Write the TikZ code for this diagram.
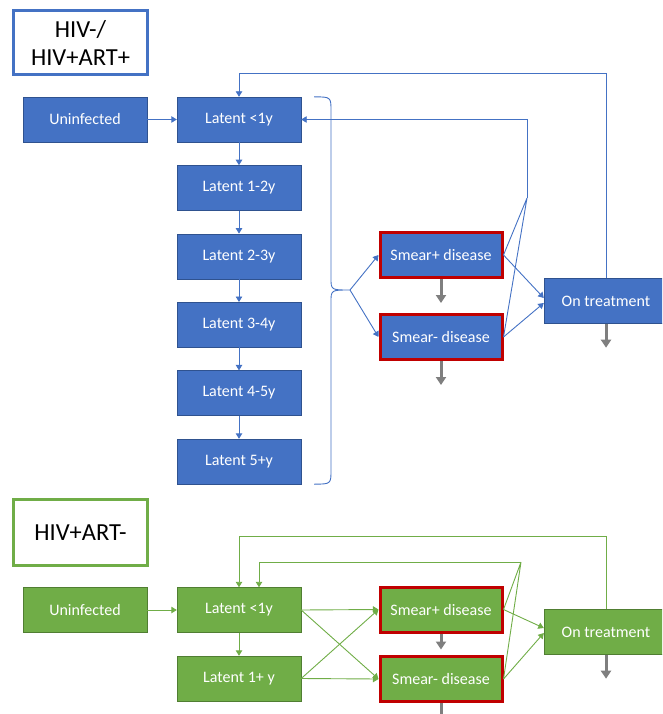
\documentclass[tikz,border=0pt]{standalone}
\usepackage{fontspec}
\setmainfont{Carlito}
\usetikzlibrary{arrows.meta}
\definecolor{oblue}{HTML}{4472C4}
\definecolor{oblueline}{HTML}{2F528F}
\definecolor{ogreen}{HTML}{70AD47}
\definecolor{ogreenline}{HTML}{507E32}
\definecolor{ored}{HTML}{C00000}
\definecolor{ogray}{HTML}{7F7F7F}
\begin{document}
\begin{tikzpicture}[x=1pt,y=-1pt,
  stage/.style={draw=#1line,fill=#1,text=white,minimum width=124pt,minimum height=45pt,inner sep=0pt,font=\fontsize{16}{19}\selectfont},
  sick/.style={draw=ored,line width=3pt,minimum width=122pt,minimum height=45pt},
  title/.style={draw=#1,line width=3pt,fill=white,minimum width=134pt,minimum height=64pt,align=center,font=\fontsize{24.5}{28}\selectfont},
  link/.style={draw=#1,line width=0.9pt,-{Triangle[length=5.5pt,width=6.5pt]}},
  drop/.style={draw=ogray,line width=3pt,-{Triangle[length=8pt,width=10pt]}}]
\useasboundingbox (0,0) rectangle (662,714);
\clip (0,0) rectangle (662,714);

% HIV-/HIV+ART+
\node[title=oblue] (hivneg) at (80.5,42.5) {HIV-/\\HIV+ART+};
\node[stage=oblue] (uninf) at (85,119.5) {Uninfected};
\foreach \lbl [count=\n] in {<1y,1-2y,2-3y,3-4y,4-5y,5+y}
  \node[stage=oblue] (lat\n) at (239,51.1+68.4*\n) {Latent \lbl};
\node[stage=oblue,sick] (smpos) at (441,255) {Smear+ disease};
\node[stage=oblue,sick] (smneg) at (441,337) {Smear- disease};
\node[stage=oblue] (ontr) at (606,301) {On treatment};
\coordinate (tip) at (350,290);
\coordinate (relapse) at (527,198);

\draw[link=oblue] (uninf) -- (lat1);
\foreach \a/\b in {1/2,2/3,3/4,4/5,5/6} \draw[link=oblue] (lat\a) -- (lat\b);
\draw[link=oblue,-] ([xshift=13pt]lat1.north east) .. controls (331,97) .. (331,111) -- (331,278)
  .. controls (331,290) .. (tip) .. controls (331,290) .. (331,302) -- (331,470)
  .. controls (331,484) .. ([xshift=13pt]lat6.south east);
\draw[link=oblue] (tip) -- (smpos.west);
\draw[link=oblue] (tip) -- (smneg.west);
\draw[link=oblue] (smpos.east) -- ([yshift=3pt]ontr.west);
\draw[link=oblue] (smneg.east) -- ([yshift=-2pt]ontr.west);
\draw[link=oblue,-] (smpos.east) -- (relapse) (smneg.east) -- (relapse);
\draw[link=oblue] (relapse) |- (lat1.east);
\draw[link=oblue] (ontr.north) -- (ontr.north |- 0,73) -| (lat1.north);
\foreach \s in {smpos,smneg,ontr} \draw[drop] (\s.south) -- ++(0,24);

% HIV+ART-
\node[title=ogreen,minimum height=66pt] (hivpos) at (80.5,532.5) {HIV+ART-};
\node[stage=ogreen] (uninfb) at (85,610) {Uninfected};
\node[stage=ogreen] (latb1) at (239,610) {Latent <1y};
\node[stage=ogreen] (latb2) at (239,678.5) {Latent 1+ y};
\node[stage=ogreen,sick] (smposb) at (441,609.5) {Smear+ disease};
\node[stage=ogreen,sick] (smnegb) at (441,679) {Smear- disease};
\node[stage=ogreen] (ontrb) at (606,632) {On treatment};
\coordinate (relapseb) at (521,562);

\draw[link=ogreen] (uninfb) -- (latb1);
\draw[link=ogreen] (latb1) -- (latb2);
\foreach \a in {latb1,latb2} \foreach \b in {smposb,smnegb} \draw[link=ogreen] (\a.east) -- (\b.west);
\draw[link=ogreen] (smposb.east) -- ([yshift=4pt]ontrb.west);
\draw[link=ogreen] (smnegb.east) -- ([yshift=-1pt]ontrb.west);
\draw[link=ogreen,-] (smposb.east) -- (relapseb) (smnegb.east) -- (relapseb);
\draw[link=ogreen] (relapseb) -| ([xshift=20pt]latb1.north);
\draw[link=ogreen] (ontrb.north) -- (ontrb.north |- 0,536) -| (latb1.north);
\draw[drop] (smposb.south) -- ++(0,16);
\foreach \s in {smnegb,ontrb} \draw[drop] (\s.south) -- ++(0,24);
\end{tikzpicture}
\end{document}
